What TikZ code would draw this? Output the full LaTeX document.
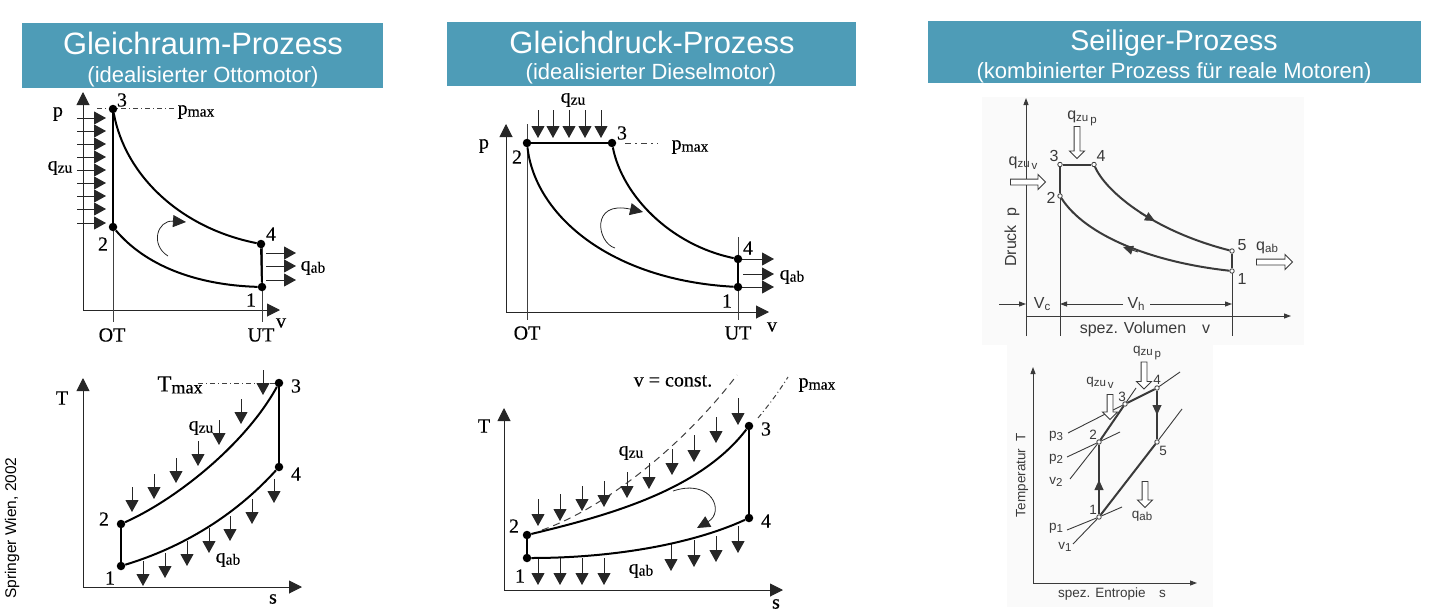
\documentclass[tikz,border=0pt]{standalone}
\usepackage{fontspec}
\setmainfont{Liberation Serif}
\setsansfont{Liberation Sans}
\newfontfamily\lblfont{Liberation Serif}[FakeBold=0.25]
\usetikzlibrary{shapes.arrows, arrows.meta}
\definecolor{headblue}{HTML}{4E9CB7}
\definecolor{scangray}{HTML}{3A3A3A}
\newcommand{\lowsub}[2][15.5]{\raisebox{-2pt}{\fontsize{#1}{#1}\selectfont #2}}
\newcommand{\seisub}[2]{\raisebox{-2pt}{\fontsize{11.5}{11.5}\selectfont #1\,\raisebox{-2pt}{#2}}}
\tikzstyle{headbox} = [rectangle, fill=headblue, draw=none]
\tikzstyle{headbig} = [inner sep=0pt, text=white, font=\sffamily\fontsize{30.9}{30.9}\selectfont]
\tikzstyle{headsub} = [inner sep=0pt, text=white, font=\sffamily\fontsize{22}{22}\selectfont]
\tikzstyle{lbl} = [inner sep=0pt, font=\lblfont\fontsize{20}{20}\selectfont]
\tikzstyle{scanlbl} = [inner sep=0pt, text=scangray, font=\sffamily\fontsize{16}{16}\selectfont]
\tikzstyle{scansmall} = [inner sep=0pt, text=scangray, font=\sffamily\fontsize{13.5}{13.5}\selectfont]
\tikzstyle{dot} = [circle, fill=black, inner sep=0pt, minimum size=8.5pt]
\tikzstyle{ring} = [circle, fill=white, draw=scangray, line width=0.8pt, inner sep=0pt, minimum size=4.5pt]
\tikzstyle{axisline} = [line width=1pt, black!85, -{Triangle[length=13pt,width=13pt]}]
\tikzstyle{heat} = [line width=1pt, black!85, -{Triangle[length=12pt,width=13pt]}]
\tikzstyle{cyc} = [line width=2pt, black]
\tikzstyle{guide} = [line width=1pt, black!75]
\tikzstyle{swirl} = [line width=0.8pt, black!85, -{Triangle[length=13pt,width=12pt]}]
\tikzstyle{scanline} = [line width=0.9pt, scangray]
\tikzstyle{scanbold} = [line width=2pt, scangray]
\tikzstyle{scanarrow} = [line width=0.9pt, scangray, -{Triangle[length=7pt,width=5pt]}]
\tikzstyle{midtip} = [line width=0.9pt, scangray, -{Triangle[length=10pt,width=9pt]}]
\tikzstyle{hollow} = [single arrow, draw=scangray, fill=white, line width=0.9pt, inner sep=0pt, text height=5pt, text depth=0pt, text width=0pt, single arrow head extend=4.5pt, single arrow head indent=0pt]

\begin{document}
\begin{tikzpicture}[x=1pt, y=-1pt]
\useasboundingbox (0,0) rectangle (1438,613);

%% Header boxes

\fill [headbox] (22,23) rectangle (383,88);
\fill [headbox] (447,22) rectangle (856,86);
\fill [headbox] (928,21) rectangle (1421,83);
\node (head1) [headbig] at (203,43) {Gleichraum-Prozess};
\node (sub1) [headsub] at (203,77) {(idealisierter Ottomotor)};
\node (head2) [headbig] at (652,42) {Gleichdruck-Prozess};
\node (sub2) [headsub] at (651,74) {(idealisierter Dieselmotor)};
\node (head3) [headbig, font=\sffamily\fontsize{28.5}{28.5}\selectfont] at (1174,43) {Seiliger-Prozess};
\node (sub3) [headsub] at (1174,73) {(kombinierter Prozess für reale Motoren)};
\node (source) [inner sep=0pt, rotate=90, font=\sffamily\fontsize{15.5}{15.5}\selectfont] at (12,528) {Springer Wien, 2002};

%% Otto, p-v

\draw [axisline] (83,310)--(83,92);
\draw [axisline] (83,310)--(280,310);
\draw [guide] (113,109)--(113,322);
\draw [guide] (262,244)--(262,322);
\draw [guide, dash pattern=on 5pt off 3pt on 1pt off 3pt] (97,108)--(174,108);
\draw [heat] (77,118)--(106,118);
\draw [heat] (77,131)--(106,131);
\draw [heat] (77,144)--(106,144);
\draw [heat] (77,157)--(106,157);
\draw [heat] (77,170)--(106,170);
\draw [heat] (77,183)--(106,183);
\draw [heat] (77,196)--(106,196);
\draw [heat] (77,209)--(106,209);
\draw [heat] (77,223)--(106,223);
\draw [heat] (266,253)--(296,253);
\draw [heat] (266,266)--(296,266);
\draw [heat] (266,280)--(296,280);
\draw [swirl] (168,256) .. controls (150,245) and (157,220) .. (186,222);
\node (a3) [dot] at (113,109) {};
\node (a2) [dot] at (113,227) {};
\node (a4) [dot] at (261,244) {};
\node (a1) [dot] at (262,287) {};
\draw [cyc] (a2)--(a3);
\draw [cyc] (a4)--(a1);
\draw [cyc] (a3) .. controls (125,175) and (180,228) .. (a4);
\draw [cyc] (a2) .. controls (145,265) and (195,285) .. (a1);
\node (alblp) [lbl] at (58,114) {p};
\node (alblq) [lbl] at (60,168) {q\lowsub{zu}};
\node (alblm) [lbl] at (196,112) {p\lowsub{max}};
\node (alblab) [lbl] at (313,268) {q\lowsub{ab}};
\node (alb3) [lbl] at (122,100) {3};
\node (alb2) [lbl] at (103,244) {2};
\node (alb4) [lbl] at (271,234) {4};
\node (alb1) [lbl] at (251,300) {1};
\node (alOT) [lbl] at (112,335) {OT};
\node (alUT) [lbl] at (261,335) {UT};
\node (alv) [lbl] at (281,323) {v};

%% Otto, T-s

\draw [axisline] (83,587)--(83,378);
\draw [axisline] (83,587)--(302,587);
\draw [guide, dash pattern=on 5pt off 3pt on 1pt off 3pt] (198,383)--(279,383);
\draw [heat] (132,487)--(132,512);
\draw [heat] (154,474)--(154,499);
\draw [heat] (176,458)--(176,483);
\draw [heat] (198,441)--(198,466);
\draw [heat] (219,420)--(219,445);
\draw [heat] (241,399)--(241,424);
\draw [heat] (263,370)--(263,395);
\draw [heat] (143,561)--(143,586);
\draw [heat] (165,553)--(165,578);
\draw [heat] (187,541)--(187,566);
\draw [heat] (209,528)--(209,553);
\draw [heat] (230,516)--(230,541);
\draw [heat] (252,499)--(252,524);
\draw [heat] (274,479)--(274,503);
\node (b3) [dot] at (279,383) {};
\node (b4) [dot] at (279,467) {};
\node (b2) [dot] at (121,524) {};
\node (b1) [dot] at (121,566) {};
\draw [cyc] (b3)--(b4);
\draw [cyc] (b2)--(b1);
\draw [cyc] (b2) .. controls (175,500) and (245,445) .. (b3);
\draw [cyc] (b1) .. controls (190,545) and (240,510) .. (b4);
\node (blblT) [lbl] at (62,398) {T};
\node (blblm) [lbl, font=\lblfont\fontsize{23}{23}\selectfont] at (180,385) {T\lowsub[18]{max}};
\node (blblq) [lbl] at (201,428) {q\lowsub{zu}};
\node (blblab) [lbl] at (228,560) {q\lowsub{ab}};
\node (blb3) [lbl] at (296,386) {3};
\node (blb4) [lbl] at (296,474) {4};
\node (blb2) [lbl] at (104,519) {2};
\node (blb1) [lbl] at (110,578) {1};
\node (blbs) [lbl] at (273,599) {s};

%% Diesel, p-v

\draw [axisline] (506,312)--(506,124);
\draw [axisline] (506,312)--(769,312);
\draw [guide] (527,124)--(527,320);
\draw [guide] (738,237)--(738,320);
\draw [guide, dash pattern=on 6pt off 4pt on 2pt off 4pt] (625,143)--(658,143);
\draw [heat] (538,110)--(538,138);
\draw [heat] (553,110)--(553,138);
\draw [heat] (569,110)--(569,138);
\draw [heat] (585,110)--(585,138);
\draw [heat] (601,110)--(601,138);
\draw [heat] (738,259)--(774,259);
\draw [heat] (743,274)--(774,274);
\draw [heat] (738,287)--(774,287);
\draw [swirl] (615,248) .. controls (597,243) and (590,200) .. (643,212);
\node (c2) [dot] at (527,143) {};
\node (c3) [dot] at (612,143) {};
\node (c4) [dot] at (738,259) {};
\node (c1) [dot] at (738,287) {};
\draw [cyc] (c2)--(c3);
\draw [cyc] (c4)--(c1);
\draw [cyc] (c3) .. controls (622,195) and (670,245) .. (c4);
\draw [cyc] (c2) .. controls (535,215) and (610,280) .. (c1);
\node (clblq) [lbl] at (573,100) {q\lowsub{zu}};
\node (clblp) [lbl] at (484,146) {p};
\node (clblm) [lbl] at (690,147) {p\lowsub{max}};
\node (clblab) [lbl] at (792,277) {q\lowsub{ab}};
\node (clb2) [lbl] at (517,157) {2};
\node (clb3) [lbl] at (622,133) {3};
\node (clb4) [lbl] at (748,248) {4};
\node (clb1) [lbl] at (727,301) {1};
\node (clOT) [lbl] at (527,333) {OT};
\node (clUT) [lbl] at (738,333) {UT};
\node (clv) [lbl] at (772,327) {v};

%% Diesel, T-s

\draw [axisline] (504,590)--(504,408);
\draw [axisline] (504,590)--(783,590);
\draw [guide, dash pattern=on 7pt off 5pt] (542,530) .. controls (600,510) and (680,450) .. (737,375);
\draw [guide, dash pattern=on 5pt off 3pt on 1pt off 3pt] (758,418) .. controls (768,406) and (778,393) .. (788,377);
\draw [heat] (538,499)--(538,526);
\draw [heat] (560,494)--(560,521);
\draw [heat] (582,486)--(582,511);
\draw [heat] (604,481)--(604,507);
\draw [heat] (627,472)--(627,498);
\draw [heat] (649,463)--(649,489);
\draw [heat] (672,449)--(672,475);
\draw [heat] (694,435)--(694,462);
\draw [heat] (716,417)--(716,443);
\draw [heat] (738,398)--(738,425);
\draw [heat] (538,558)--(538,585);
\draw [heat] (560,558)--(560,585);
\draw [heat] (582,558)--(582,585);
\draw [heat] (604,558)--(604,585);
\draw [heat] (671,544)--(671,571);
\draw [heat] (694,540)--(694,567);
\draw [heat] (716,536)--(716,562);
\draw [heat] (738,526)--(738,553);
\draw [swirl] (673,491) .. controls (712,478) and (725,512) .. (697,528);
\node (d3) [dot] at (749,426) {};
\node (d4) [dot] at (749,518) {};
\node (d2) [dot] at (527,535) {};
\node (d1) [dot] at (527,558) {};
\draw [cyc] (d3)--(d4);
\draw [cyc] (d2)--(d1);
\draw [cyc] (d2) .. controls (610,515) and (700,490) .. (d3);
\draw [cyc] (d1) .. controls (610,558) and (690,545) .. (d4);
\node (dlblc) [lbl] at (673,381) {v = const.};
\node (dlblm) [lbl] at (817,385) {p\lowsub{max}};
\node (dlblT) [lbl] at (484,426) {T};
\node (dlblq) [lbl] at (631,453) {q\lowsub{zu}};
\node (dlblab) [lbl] at (641,571) {q\lowsub{ab}};
\node (dlb3) [lbl] at (766,429) {3};
\node (dlb4) [lbl] at (766,521) {4};
\node (dlb2) [lbl] at (514,526) {2};
\node (dlb1) [lbl] at (520,576) {1};
\node (dlbs) [lbl] at (776,604) {s};

%% Seiliger, p-v (scan)

\fill [black!2] (982,97) rectangle (1304,345);
\draw [scanarrow] (1026,336)--(1026,98);
\draw [scanarrow] (1026,316)--(1291,316);
\draw [scanline] (1060,164)--(1060,336);
\draw [scanline] (1232,271)--(1232,336);
\draw [scanarrow] (999,304)--(1026,304);
\draw [scanarrow] (1123,304)--(1060,304);
\draw [scanarrow] (1150,304)--(1232,304);
\node (e3) [ring] at (1060,164.5) {};
\node (e4) [ring] at (1094,164.5) {};
\node (e2) [ring] at (1060,196) {};
\node (e5) [ring] at (1232,251) {};
\node (e1) [ring] at (1232,271) {};
\draw [scanbold] (e3)--(e4);
\draw [scanbold] (e3)--(e2);
\draw [scanbold] (e5)--(e1);
\draw [scanbold] (e4) .. controls (1105,190) and (1150,230) .. (e5);
\draw [scanbold] (e2) .. controls (1085,235) and (1150,262) .. (e1);
\draw [midtip] (1140,213)--(1155,221);
\draw [midtip] (1138,252)--(1123,247);
\node (ezup) [hollow, rotate=-90, minimum height=32pt] at (1077,141) {};
\node (ezuv) [hollow, minimum height=35pt] at (1026.5,182) {};
\node (eab) [hollow, minimum height=36pt] at (1273,262) {};
\node (elblp) [scanlbl] at (1082,118) {q\seisub{zu}{p}};
\node (elblv) [scanlbl] at (1023,163) {q\seisub{zu}{v}};
\node (elblab) [scanlbl] at (1268,248) {q\seisub{ab}{}};
\node (elb3) [scanlbl] at (1054,156) {3};
\node (elb4) [scanlbl] at (1101,156) {4};
\node (elb2) [scanlbl] at (1051,198) {2};
\node (elb5) [scanlbl] at (1242,245) {5};
\node (elb1) [scanlbl] at (1242,279) {1};
\node (elbD) [scanlbl, rotate=90] at (1012,237) {Druck\ \ p};
\node (elbc) [scanlbl] at (1043,305) {V\seisub{c}{}};
\node (elbh) [scanlbl] at (1137,305) {V\seisub{h}{}};
\node (elbs) [scanlbl] at (1145,329) {spez. Volumen\quad v};

%% Seiliger, T-s (scan)

\fill [black!2] (1007,345) rectangle (1213,607);
\draw [scanarrow] (1033,583)--(1033,367);
\draw [scanarrow] (1033,583)--(1197,583);
\node (f1) [ring] at (1099,517) {};
\node (f2) [ring] at (1099,442) {};
\node (f3) [ring] at (1125,404) {};
\node (f4) [ring] at (1157,388) {};
\node (f5) [ring] at (1157,442) {};
\draw [scanline] (1067,530)--(f1);
\draw [scanline] (f1)--(1122,507);
\draw [scanline] (1073,544)--(f1);
\draw [scanline] (f5)--(1182,409);
\draw [scanline] (1067,457)--(f2);
\draw [scanline] (f2)--(1120,432);
\draw [scanline] (1070,479)--(f2);
\draw [scanline] (f3)--(1136,388);
\draw [scanline] (1068,433)--(f3);
\draw [scanline] (f4)--(1180,372);
\draw [scanbold] (f1)--(f2);
\draw [scanbold] (f2)--(f3);
\draw [scanbold] (f3)--(f4);
\draw [scanbold] (f4)--(f5);
\draw [scanbold] (f1)--(f5);
\draw [midtip] (1099,495)--(1099,480);
\draw [midtip] (1157,400)--(1157,415);
\node (fzup) [hollow, rotate=-90, minimum height=27pt] at (1144,374) {};
\node (fzuv) [hollow, rotate=-90, minimum height=25pt] at (1110,405.5) {};
\node (fab) [hollow, rotate=-90, minimum height=26pt] at (1145,493) {};
\node (flblp) [scansmall] at (1147,353) {q\seisub{zu}{p}};
\node (flblv) [scansmall] at (1100,383) {q\seisub{zu}{v}};
\node (flblab) [scansmall] at (1143,517) {q\seisub{ab}{}};
\node (flb4) [scansmall] at (1157,380) {4};
\node (flb3) [scansmall] at (1122,397) {3};
\node (flb2) [scansmall] at (1093,435) {2};
\node (flb5) [scansmall] at (1163,451) {5};
\node (flb1) [scansmall] at (1093,510) {1};
\node (flbp3) [scansmall] at (1057,437) {p\seisub{3}{}};
\node (flbp2) [scansmall] at (1057,460) {p\seisub{2}{}};
\node (flbv2) [scansmall] at (1057,483) {v\seisub{2}{}};
\node (flbp1) [scansmall] at (1057,529) {p\seisub{1}{}};
\node (flbv1) [scansmall] at (1066,548) {v\seisub{1}{}};
\node (flbT) [scansmall, rotate=90] at (1022,475) {Temperatur\ \ T};
\node (flbs) [scansmall] at (1112,594) {spez. Entropie\quad s};
\end{tikzpicture}
\end{document}
